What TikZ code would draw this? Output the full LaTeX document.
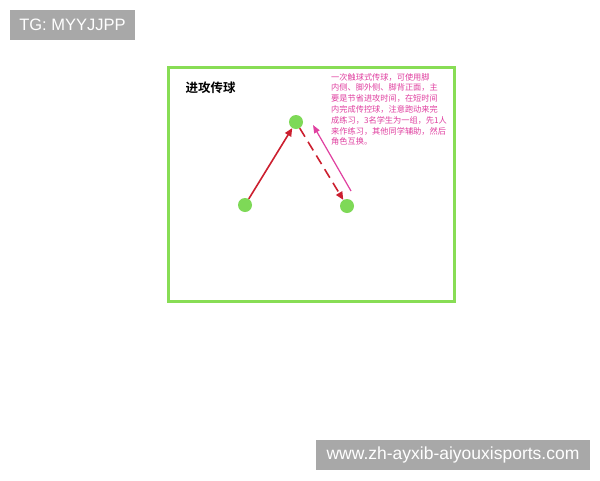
\documentclass[tikz,border=0pt]{standalone}
\usepackage{fontspec}
\setmainfont{Liberation Sans}
\newfontfamily\cjk{Noto Sans CJK SC}
\newfontfamily\cjkb{Noto Sans CJK SC Bold}
\usetikzlibrary{arrows.meta}
\definecolor{frameg}{HTML}{88DD55}
\definecolor{dotg}{HTML}{7ED957}
\definecolor{arrred}{HTML}{CC1F2F}
\definecolor{pinkt}{HTML}{E040A0}
\definecolor{tagbg}{HTML}{A8A8A8}
\tikzset{
  tag/.style={fill=tagbg, text=white, inner sep=0pt, anchor=center},
  player/.style={circle, fill=dotg, minimum size=14pt, inner sep=0pt},
  pass/.style={arrred, line width=1.6pt, -{Triangle[length=8pt,width=7pt]}},
}
\begin{document}
\begin{tikzpicture}[x=1pt,y=-1pt]
\useasboundingbox (0,0) rectangle (600,480);
\fill[white] (0,0) rectangle (600,480);
% tags
\node[tag, minimum width=125pt, minimum height=30pt, font=\fontsize{16.5}{18}\selectfont] (tg) at (72.5,25) {TG: MYYJJPP};
\node[tag, minimum width=274pt, minimum height=30pt, font=\fontsize{17.5}{19}\selectfont] (url) at (453,455) {www.zh-ayxib-aiyouxisports.com};
% frame
\draw[frameg, line width=3pt] (168,67) rectangle (454,301);
\node[anchor=west, font=\cjkb\fontsize{12.5}{14}\selectfont] (title) at (182,88) {进攻传球};
% players
\node[player] (top) at (296,122) {};
\node[player] (left) at (245,205) {};
\node[player] (right) at (347,206) {};
% arrows
\draw[pass] (left) -- (top);
\draw[pass, dash pattern=on 10pt off 6pt] (top) -- (right);
\coordinate (pstart) at (351,191);
\draw[pinkt, line width=1.2pt, -{Triangle[length=8pt,width=6pt]}] (pstart) -- (313,125);
% text block
\node[anchor=north west, align=left, text=pinkt, font=\cjk\fontsize{8.2}{10.8}\selectfont, inner sep=0pt] (desc) at (331,73) {一次触球式传球，可使用脚\\内侧、脚外侧、脚背正面，主\\要是节省进攻时间，在短时间\\内完成传控球，注意跑动来完\\成练习，3名学生为一组，先1人\\来作练习，其他同学辅助，然后\\角色互换。};
\end{tikzpicture}
\end{document}
